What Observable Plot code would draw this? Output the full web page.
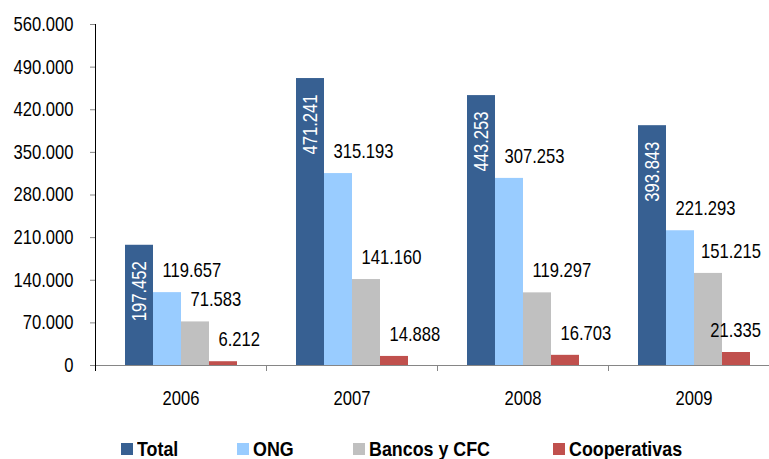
<!DOCTYPE html>
<html>
<head>
<meta charset="utf-8">
<script src="https://cdn.jsdelivr.net/npm/d3@7"></script>
<script src="https://cdn.jsdelivr.net/npm/@observablehq/plot@0.6"></script>
<style>
  html, body { margin: 0; padding: 0; background: #fff; overflow: hidden; width: 769px; height: 459px; }
  #chart { position: absolute; left: 0; top: 0; }
  #chart svg { display: block; overflow: visible; }
  .legend { position: absolute; top: 437px; left: 0; width: 769px; height: 24px;
            font-family: "Liberation Sans", Arial, sans-serif;
            font-weight: bold; font-size: 21px; line-height: 24px; color: #000; white-space: nowrap; }
  .legend .item { position: absolute; top: 0; height: 24px; display: flex; align-items: center; }
  .legend .sw { width: 12px; height: 12px; margin-right: 4px; display: inline-block; flex: none; }
  .legend .tx { display: inline-block; transform: scaleX(0.85); transform-origin: 0 50%; }
</style>
</head>
<body>
<div id="chart"></div>
<div class="legend" id="legend"></div>
<script>
const years = ["2006", "2007", "2008", "2009"];
const series = ["Total", "ONG", "Bancos y CFC", "Cooperativas"];
const total = [197452, 471241, 443253, 393843];
const ong = [119657, 315193, 307253, 221293];
const bancos = [71583, 141160, 119297, 151215];
const coop = [6212, 14888, 16703, 21335];
const yTicks = [0, 70000, 140000, 210000, 280000, 350000, 420000, 490000, 560000];
const colors = ["#376092", "#99CCFF", "#C0C0C0", "#C0504D"];
const legendLeft = [121, 237, 353, 553];

const FONT = '"Liberation Sans", Arial, sans-serif';
const SX = 0.83; // horizontal condensing of the text (narrow font look)
const loc = d3.formatLocale({decimal: ",", thousands: ".", grouping: [3], currency: ["", ""]});
const fmt = loc.format(",d");

const valuesBySeries = [total, ong, bancos, coop];
const rows = [];
years.forEach((yr, i) => series.forEach((s, j) => rows.push({year: yr, series: s, value: valuesBySeries[j][i]})));

function bandTick(index, scales, values, dim) {
  const g = d3.create("svg:g");
  const y0 = dim.height - dim.marginBottom;
  g.append("line").attr("x1", dim.marginLeft + 0.5).attr("x2", dim.marginLeft + 0.5)
    .attr("y1", y0).attr("y2", y0 + 6).attr("stroke", "#868686");
  return g.node();
}
function yAxisLine(index, scales, values, dim) {
  const g = d3.create("svg:g");
  g.append("line").attr("x1", dim.marginLeft + 0.5).attr("x2", dim.marginLeft + 0.5)
    .attr("y1", dim.marginTop).attr("y2", dim.height - dim.marginBottom + 6).attr("stroke", "#000");
  return g.node();
}

const chart = Plot.plot({
  width: 769,
  height: 420,
  marginTop: 24,
  marginBottom: 55,
  marginLeft: 93,
  marginRight: -11,
  style: {fontFamily: FONT, fontSize: "20px", color: "#000", background: "transparent", overflow: "visible"},
  fx: {domain: years, padding: 0, label: null},
  x: {domain: series, paddingInner: 0, paddingOuter: 0.966, axis: null},
  y: {domain: [0, 560000]},
  color: {domain: series, range: colors},
  marks: [
    Plot.barY(rows, {fx: "year", x: "series", y: "value", fill: "series"}),
    Plot.ruleY([0], {stroke: "#868686"}),
    Plot.ruleY([0], {render: bandTick}),
    Plot.ruleY([0], {facetAnchor: "left", render: yAxisLine}),
    Plot.axisY({ticks: yTicks, tickFormat: fmt, tickSize: 5, tickPadding: 17, stroke: "#868686", label: null, fontSize: 20}),
    Plot.axisFx({anchor: "bottom", tickSize: 0, tickPadding: 25, label: null, fontSize: 20}),
    Plot.text(rows.filter(d => d.series !== "Total"), {
      fx: "year", x: "series", y: "value", text: d => fmt(d.value),
      textAnchor: "start", lineAnchor: "middle", dx: -5, dy: -22, fill: "#000", fontSize: 20,
      className: "vlabel"
    }),
    Plot.text(rows.filter(d => d.series === "Total"), {
      fx: "year", x: "series", y: "value", text: d => fmt(d.value),
      rotate: -90, textAnchor: "end", lineAnchor: "middle", dy: 16, fill: "#fff", fontSize: 20
    })
  ]
});
document.getElementById("chart").appendChild(chart);

// condense all texts horizontally around their anchor
chart.querySelectorAll("text").forEach(t => {
  const tr = t.getAttribute("transform");
  if (tr) {
    t.setAttribute("transform", tr + ` scale(${SX},1)`);
  } else {
    const x = +(t.getAttribute("x") || 0), y = +(t.getAttribute("y") || 0);
    t.removeAttribute("x"); t.removeAttribute("y");
    t.setAttribute("transform", `translate(${x},${y}) scale(${SX},1)`);
  }
});

// keep outside labels inside the visible window
chart.querySelectorAll(".vlabel text").forEach(t => {
  const r = t.getBoundingClientRect();
  const limit = 769 - 8;
  if (r.right > limit) {
    const shift = (r.right - limit) / SX;
    t.setAttribute("transform", t.getAttribute("transform") + ` translate(${-shift},0)`);
  }
});

const legend = d3.select("#legend");
series.forEach((s, i) => {
  const item = legend.append("div").attr("class", "item").style("left", legendLeft[i] + "px");
  item.append("span").attr("class", "sw").style("background", colors[i]);
  item.append("span").attr("class", "tx").text(s);
});
</script>
</body>
</html>
